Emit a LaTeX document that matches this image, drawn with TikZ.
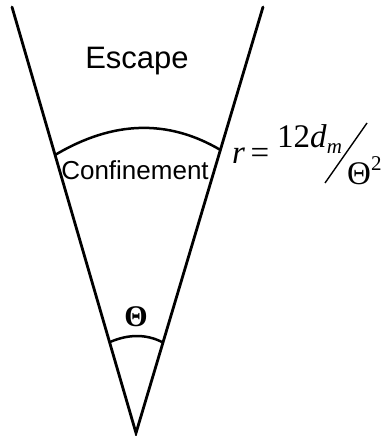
\documentclass[tikz,border=0pt]{standalone}
\usepackage{fontspec}
\setmainfont{Liberation Serif}
\newfontfamily\labelsans{Liberation Sans}
\begin{document}
\begin{tikzpicture}[x=1pt,y=-1pt,
  wall/.style={line width=2.8pt,line cap=round},
  arcline/.style={line width=2.5pt},
  sanslabel/.style={font=\labelsans\fontsize{26}{28}\selectfont,inner sep=0pt},
  mathlabel/.style={font=\fontsize{33}{35}\selectfont,inner sep=0pt,anchor=base west}]
\useasboundingbox (0,0) rectangle (384,436);
\coordinate (apex) at (136,433);
\coordinate (lefttop) at (12,7);
\coordinate (righttop) at (263,7);
\coordinate (confL) at (55,155);
\coordinate (confR) at (220.5,150);
\coordinate (thL) at (110,342);
\coordinate (thR) at (162,342);
\draw[wall] (lefttop) -- (apex) -- (righttop);
\draw[arcline] (confL) .. controls (113,120.5) and (168,119) .. (confR);
\draw[arcline] (thL) .. controls (128.7,334) and (146,334) .. (thR);
\node[sanslabel,font=\labelsans\fontsize{31}{33}\selectfont] (escape) at (137,61) {Escape};
\node[sanslabel] (conf) at (135,170) {Confinement};
\node[mathlabel,font=\bfseries\fontsize{30}{32}\selectfont,anchor=center] (theta) at (136,317) {Θ};
\node[mathlabel] (req) at (232,163) {\textit{r}\,=};
\node[mathlabel] (num) at (277,147) {12\textit{d}\raisebox{-6pt}{\fontsize{21}{23}\selectfont\textit{m}}};
\node[mathlabel] (den) at (347,184) {Θ\raisebox{14pt}{\fontsize{21}{23}\selectfont 2}};
\coordinate (slashtop) at (367,123);
\coordinate (slashbot) at (325,183);
\draw[line width=1.4pt] (slashtop) -- (slashbot);
\end{tikzpicture}
\end{document}
